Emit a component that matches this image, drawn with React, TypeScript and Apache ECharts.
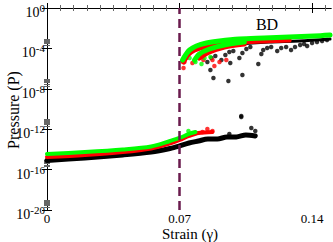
import React, { useEffect, useRef } from "react";
import * as echarts from "echarts";

// y values are log10(P)
const blackLowX = [0, 0.02, 0.04, 0.055, 0.065, 0.07, 0.075, 0.08, 0.085, 0.09, 0.095, 0.1, 0.105, 0.11];
const blackLowY = [-15.1, -14.85, -14.55, -14.26, -13.91, -13.66, -13.37, -13.17, -12.97, -12.97, -12.77, -12.77, -12.57, -12.67];
const redLowX = [0, 0.02, 0.04, 0.055, 0.065, 0.07, 0.075, 0.08, 0.0874];
const redLowY = [-14.75, -14.55, -14.26, -13.91, -13.41, -13.07, -12.67, -12.38, -12.28];
const greenLowX = [0, 0.02, 0.04, 0.055, 0.065, 0.07, 0.075, 0.0784];
const greenLowY = [-14.45, -14.26, -14.01, -13.71, -13.17, -12.87, -12.47, -12.28];

const blackUpX = [0.0884, 0.1016, 0.1174, 0.1332, 0.1495];
const blackUpY = [-3.86, -3.56, -3.37, -3.27, -3.07];
const redUpX = [0.0721, 0.0742, 0.0779, 0.0832, 0.0911, 0.1016, 0.1147, 0.1279];
const redUpY = [-5.35, -4.65, -4.16, -3.86, -3.56, -3.37, -3.27, -3.17];
const redUp2X = [0.0805, 0.0858, 0.0937, 0.1042];
const redUp2Y = [-4.95, -4.36, -3.86, -3.56];
const greenUpX = [0.0716, 0.0732, 0.0753, 0.0789, 0.0842, 0.0911, 0.1016, 0.1147, 0.1279, 0.141, 0.1495];
const greenUpY = [-5.15, -4.65, -4.16, -3.76, -3.47, -3.27, -3.07, -2.97, -2.87, -2.77, -2.67];
const greenUp2X = [0.0779, 0.0805, 0.0858, 0.0937, 0.1042];
const greenUp2Y = [-5.15, -4.55, -4.06, -3.66, -3.37];

const blackDotsX = [0.0863, 0.0879, 0.0958, 0.1032, 0.1026, 0.1116, 0.0968,
  0.0847, 0.0868, 0.0889, 0.0921, 0.0942, 0.0963, 0.0984, 0.1016, 0.1032, 0.1053, 0.1074,
  0.1132, 0.1142, 0.1163, 0.1184, 0.1216, 0.1237, 0.1263, 0.1289, 0.131, 0.1337, 0.1358,
  0.1374, 0.14, 0.1426, 0.1453, 0.1479,
  0.1079, 0.11, 0.1026, 0.0963];
const blackDotsY = [-6.14, -6.93, -7.23, -6.63, -10.79, -5.54, -5.45,
  -5.35, -4.95, -4.75, -5.15, -4.65, -4.36, -4.26, -4.95, -4.46, -4.06, -3.86,
  -4.55, -4.16, -3.96, -3.86, -4.26, -3.96, -3.86, -4.16, -3.86, -3.66, -3.56,
  -3.76, -3.47, -3.37, -3.27, -3.17,
  -11.88, -12.18, -10.69, -12.47];
const redDotsX = [0.0721, 0.0737, 0.0768, 0.0826, 0.0874, 0.0884, 0.0911, 0.0947, 0.0726, 0.0821, 0.0874, 0.0847];
const redDotsY = [-5.94, -4.95, -5.45, -5.15, -5.15, -5.74, -5.35, -5.15, -5.35, -12.28, -12.18, -11.98];
const greenDotsX = [0.0753, 0.0784, 0.0816, 0.0832, 0.0863, 0.0789, 0.0747];
const greenDotsY = [-4.95, -5.35, -5.54, -4.95, -4.85, -12.38, -12.18];

const xTickLabels = [0, 0.07, 0.14];
const xMinorStep = 0.007;
const yTickExps = [-20, -16, -12, -8, -4, 0];
const yMinorMult = [2, 3, 4, 5, 6, 7, 8, 9];
const transitionStrain = 0.07;

const zip = (xs: number[], ys: number[]) => xs.map((x, i) => [x, ys[i]]);

const SERIF = "'Liberation Serif', 'DejaVu Serif', serif";

export default function App() {
  const ref = useRef<HTMLDivElement>(null);
  useEffect(() => {
    if (!ref.current) return;
    const chart = echarts.init(ref.current, undefined, { renderer: "svg" });
    const xMinor: number[] = [];
    for (let k = 1; k <= 21; k++) {
      if (k % 10 !== 0) xMinor.push(Math.round(k * xMinorStep * 1000) / 1000);
    }
    const yMinor: number[] = [];
    yTickExps.forEach((e) => {
      if (e < 0) yMinorMult.forEach((m) => yMinor.push(e + Math.log10(m)));
    });
    const xBase = { type: "value", min: 0, max: 0.15, splitLine: { show: false } };
    const yBase = { type: "value", min: -20, max: 0, splitLine: { show: false } };
    const axisLine = { show: true, lineStyle: { color: "#000", width: 1 } };
    const majTick = (vals: number[]) => ({ show: true, inside: true, length: 5, customValues: vals, lineStyle: { color: "#000", width: 1 } });
    const minTick = (vals: number[]) => ({ show: true, inside: true, length: 3, customValues: vals, lineStyle: { color: "#666", width: 1 } });

    const lineS = (xs: number[], ys: number[], color: string, w: number, extra: any = {}) => ({
      type: "line", data: zip(xs, ys), symbol: "none", smooth: 0.3,
      lineStyle: { color, width: w, cap: "round", join: "round" }, ...extra,
    });
    const dotS = (xs: number[], ys: number[], color: string) => ({
      type: "scatter", data: zip(xs, ys), symbol: "circle", symbolSize: 4.5,
      itemStyle: { color },
    });

    chart.setOption({
      animation: false,
      grid: { left: 47, right: 2, top: 8, bottom: 32, containLabel: false },
      xAxis: [
        { ...xBase, position: "bottom", axisLine, axisTick: majTick(xTickLabels),
          axisLabel: { customValues: xTickLabels, margin: 2, fontSize: 13, fontFamily: SERIF, color: "#000" } },
        { ...xBase, position: "bottom", axisLine: { show: false }, axisTick: minTick(xMinor), axisLabel: { show: false } },
        { ...xBase, position: "top", axisLine, axisTick: majTick(xTickLabels), axisLabel: { show: false } },
        { ...xBase, position: "top", axisLine: { show: false }, axisTick: minTick(xMinor), axisLabel: { show: false } },
      ],
      yAxis: [
        { ...yBase, position: "left", axisLine, axisTick: majTick(yTickExps),
          axisLabel: {
            customValues: yTickExps, margin: 2, color: "#000", fontFamily: SERIF, fontSize: 14,
            padding: [6, 0, 0, 0],
            formatter: (v: number) => `{base|10}{exp|${v}}`,
            rich: {
              base: { fontSize: 14, fontFamily: SERIF, color: "#000", lineHeight: 17, verticalAlign: "bottom" },
              exp: { fontSize: 11, fontFamily: SERIF, color: "#000", lineHeight: 17, verticalAlign: "top" },
            },
          } },
        { ...yBase, position: "left", axisLine: { show: false }, axisTick: minTick(yMinor), axisLabel: { show: false } },
        { ...yBase, position: "right", axisLine, axisTick: majTick(yTickExps), axisLabel: { show: false } },
        { ...yBase, position: "right", axisLine: { show: false }, axisTick: minTick(yMinor), axisLabel: { show: false } },
      ],
      series: [
        lineS(blackLowX, blackLowY, "#000", 5, {
          markLine: {
            silent: true, symbol: "none", label: { show: false },
            lineStyle: { color: "#6a1b4d", width: 2.5, type: [9, 5] },
            data: [{ xAxis: transitionStrain }],
          },
        }),
        lineS(redLowX, redLowY, "#ff0000", 4),
        lineS(greenLowX, greenLowY, "#00ff00", 4),
        lineS(blackUpX, blackUpY, "#000", 3),
        lineS(redUp2X, redUp2Y, "#ff0000", 5),
        lineS(redUpX, redUpY, "#ff0000", 5),
        dotS(blackDotsX, blackDotsY, "#000"),
        dotS(redDotsX, redDotsY, "#ff0000"),
        lineS(greenUp2X, greenUp2Y, "#00ff00", 5),
        lineS(greenUpX, greenUpY, "#00ff00", 5),
        dotS(greenDotsX, greenDotsY, "#00ff00"),
      ],
      graphic: [
        { type: "text", x: 13, y: 110, rotation: Math.PI / 2,
          style: { text: "Pressure (P)", fontSize: 16, fontFamily: SERIF, fill: "#000", align: "center", verticalAlign: "middle" } },
        { type: "text", x: 190, y: 234,
          style: { text: "Strain (\u03b3)", fontSize: 15, fontFamily: SERIF, fill: "#000", align: "center", verticalAlign: "middle" } },
        { type: "text", x: 267, y: 24,
          style: { text: "BD", fontSize: 16, fontFamily: SERIF, fill: "#000", align: "center", verticalAlign: "middle" } },
      ],
    });
    return () => chart.dispose();
  }, []);
  return <div ref={ref} style={{ width: 333, height: 242, position: "absolute", left: 0, top: 0 }} />;
}
